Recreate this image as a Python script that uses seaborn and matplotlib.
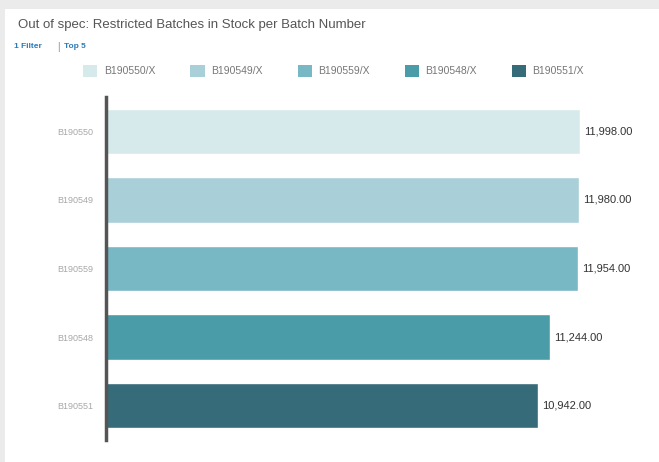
import numpy as np
import pandas as pd
import matplotlib
matplotlib.use("Agg")
import matplotlib.pyplot as plt
import matplotlib.patches as mpatches
import seaborn as sns

batches = ["B190550", "B190549", "B190559", "B190548", "B190551"]
legend_labels = ["B190550/X", "B190549/X", "B190559/X", "B190548/X", "B190551/X"]
stock = [11998.00, 11980.00, 11954.00, 11244.00, 10942.00]
colors = ["#d6e9eb", "#a9cfd8", "#78b7c4", "#4b9ca9", "#366c79"]

df = pd.DataFrame({"batch": batches, "stock": stock})

sns.set_style("white")
plt.rcParams['font.family'] = ['Liberation Sans', 'DejaVu Sans']

fig = plt.figure(figsize=(6.59, 4.62), dpi=100)
fig.patch.set_facecolor("#ebebeb")
# white card behind everything
card = mpatches.Rectangle((5 / 659, 0), 1, 1 - 9 / 462, transform=fig.transFigure,
                          facecolor="white", edgecolor="none", zorder=-10)
fig.patches.append(card)

ax = fig.add_axes([106 / 659, 22 / 462, 534 / 659, 343 / 462])
ax.set_zorder(1)
ax.patch.set_alpha(0)
sns.barplot(data=df, y="batch", x="stock", hue="batch", palette=colors,
            order=batches, hue_order=batches, width=0.66, legend=False, ax=ax,
            saturation=1)

for c in ax.containers:
    ax.bar_label(c, labels=[f"{v:,.2f}" for v in c.datavalues], padding=3,
                 fontsize=8, color="#333333")

ax.set_xlim(0, 13517)
ax.set_ylim(4.5, -0.5)
ax.set_xlabel("")
ax.set_ylabel("")
ax.set_xticks([])
ax.tick_params(axis="y", length=0, labelsize=6.5, labelcolor="#a8a8a8", pad=9)
for s in ["top", "right", "bottom"]:
    ax.spines[s].set_visible(False)
ax.spines["left"].set_color("#555555")
ax.spines["left"].set_linewidth(2.5)

fig.text(18 / 659, 1 - 25 / 462, "Out of spec: Restricted Batches in Stock per Batch Number",
         fontsize=9.5, color="#555555", va="center")
fig.text(14 / 659, 1 - 47 / 462, "1 Filter", fontsize=6, color="#2b7bb9",
         fontweight="bold", va="center")
fig.text(57 / 659, 1 - 47 / 462, "|", fontsize=7, color="#888888", va="center")
fig.text(64 / 659, 1 - 47 / 462, "Top 5", fontsize=6, color="#2b7bb9",
         fontweight="bold", va="center")

handles = [mpatches.Patch(facecolor=col, edgecolor="none", label=lab)
           for col, lab in zip(colors, legend_labels)]
fig.legend(handles=handles, loc="center left", bbox_to_anchor=(74 / 659, 1 - 71 / 462),
           ncol=5, frameon=False, fontsize=7.5, labelcolor="#777777",
           handlelength=1.35, handleheight=1.35, columnspacing=3.4, handletextpad=0.6)

fig.savefig("out.png", dpi=100, facecolor=fig.get_facecolor())
